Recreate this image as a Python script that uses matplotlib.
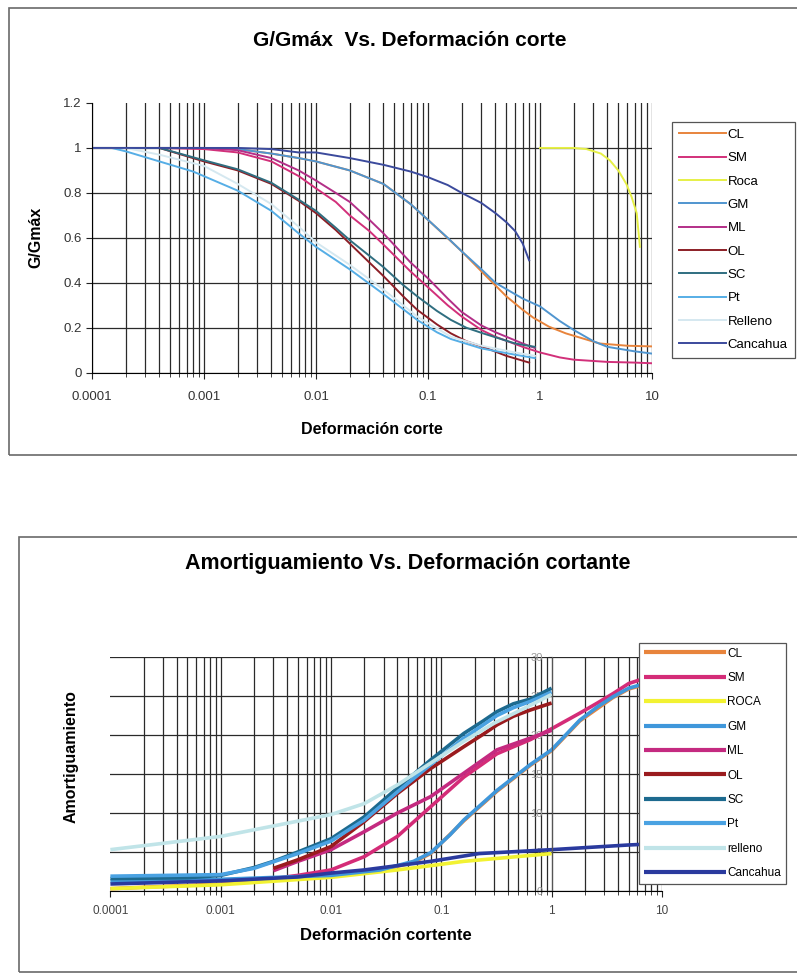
import matplotlib
matplotlib.use("Agg")
import matplotlib.pyplot as plt
from matplotlib.patches import Rectangle
from matplotlib.ticker import LogLocator, NullFormatter

plt.rcParams['font.family'] = ['Liberation Sans', 'DejaVu Sans']

# ---------------- datos: G/Gmax vs deformacion ----------------
g_names = ['CL', 'SM', 'Roca', 'GM', 'ML', 'OL', 'SC', 'Pt', 'Relleno', 'Cancahua']
g_colors = ['#E8843C', '#D2307A', '#E6F046', '#5095CF', '#B32F88',
            '#8C1E26', '#2F6E80', '#56AEE6', '#D5E8F0', '#3B4A9C']

cl_x = [0.0001, 0.001, 0.002, 0.004, 0.007, 0.01, 0.02, 0.04, 0.07, 0.1, 0.2, 0.33, 0.5, 0.7, 0.87, 1.2, 1.7, 2.5, 3.4, 6, 10]
cl_y = [1, 1, 0.995, 0.975, 0.955, 0.94, 0.90, 0.84, 0.75, 0.68, 0.54, 0.43, 0.34, 0.28, 0.245, 0.205, 0.175, 0.15, 0.13, 0.12, 0.117]

sm_x = [0.0004, 0.001, 0.002, 0.004, 0.007, 0.01, 0.015, 0.02, 0.03, 0.04, 0.07, 0.1, 0.15, 0.2, 0.3, 0.4, 0.7, 1, 1.5, 2, 4, 7, 10]
sm_y = [1, 0.995, 0.98, 0.94, 0.875, 0.82, 0.76, 0.70, 0.63, 0.57, 0.45, 0.38, 0.30, 0.25, 0.19, 0.16, 0.115, 0.09, 0.068, 0.058, 0.048, 0.045, 0.042]

roca_x = [1, 2, 2.6, 3.5, 4.2, 5, 5.9, 6.6, 7.3, 7.8]
roca_y = [1.0, 1.0, 0.995, 0.975, 0.945, 0.90, 0.84, 0.78, 0.71, 0.56]

gm_x = [0.0001, 0.001, 0.002, 0.004, 0.007, 0.01, 0.02, 0.04, 0.07, 0.1, 0.15, 0.2, 0.3, 0.4, 0.55, 0.7, 1, 1.5, 2, 3, 4, 7, 10]
gm_y = [1, 1, 0.995, 0.975, 0.955, 0.94, 0.90, 0.84, 0.75, 0.68, 0.60, 0.54, 0.46, 0.40, 0.36, 0.33, 0.295, 0.23, 0.19, 0.14, 0.115, 0.095, 0.085]

ml_x = [0.0004, 0.001, 0.002, 0.004, 0.007, 0.01, 0.015, 0.02, 0.03, 0.04, 0.07, 0.1, 0.15, 0.2, 0.3, 0.4, 0.7, 0.9]
ml_y = [1, 1, 0.99, 0.955, 0.90, 0.855, 0.80, 0.76, 0.68, 0.62, 0.49, 0.42, 0.33, 0.27, 0.21, 0.18, 0.13, 0.11]

ol_x = [0.0004, 0.001, 0.002, 0.004, 0.007, 0.01, 0.015, 0.02, 0.03, 0.04, 0.06, 0.08, 0.12, 0.16, 0.22, 0.31, 0.5, 0.8]
ol_y = [1, 0.94, 0.90, 0.84, 0.765, 0.71, 0.635, 0.575, 0.49, 0.43, 0.34, 0.28, 0.215, 0.175, 0.14, 0.115, 0.075, 0.045]

sc_x = [0.0004, 0.001, 0.002, 0.004, 0.007, 0.01, 0.015, 0.02, 0.03, 0.04, 0.06, 0.08, 0.12, 0.16, 0.22, 0.31, 0.6, 0.9]
sc_y = [1, 0.945, 0.905, 0.845, 0.77, 0.72, 0.645, 0.59, 0.52, 0.47, 0.39, 0.34, 0.275, 0.235, 0.20, 0.175, 0.13, 0.115]

pt_x = [0.0001, 0.00015, 0.0002, 0.0004, 0.0008, 0.002, 0.004, 0.007, 0.01, 0.02, 0.04, 0.08, 0.12, 0.16, 0.3, 0.6, 0.9]
pt_y = [1, 1, 0.985, 0.94, 0.895, 0.81, 0.72, 0.62, 0.56, 0.46, 0.35, 0.235, 0.18, 0.15, 0.108, 0.08, 0.065]

rel_x = [0.0001, 0.0002, 0.0004, 0.001, 0.002, 0.004, 0.007, 0.01, 0.02, 0.04, 0.08, 0.16, 0.3, 0.6, 0.9]
rel_y = [1, 1, 0.97, 0.92, 0.84, 0.75, 0.65, 0.58, 0.48, 0.37, 0.25, 0.16, 0.12, 0.09, 0.075]

can_x = [0.0001, 0.001, 0.002, 0.004, 0.007, 0.01, 0.02, 0.04, 0.07, 0.1, 0.15, 0.2, 0.3, 0.4, 0.5, 0.6, 0.7, 0.8]
can_y = [1, 1, 1, 0.995, 0.98, 0.98, 0.955, 0.925, 0.895, 0.87, 0.835, 0.80, 0.755, 0.71, 0.67, 0.63, 0.575, 0.50]

g_series = [(cl_x, cl_y), (sm_x, sm_y), (roca_x, roca_y), (gm_x, gm_y), (ml_x, ml_y),
            (ol_x, ol_y), (sc_x, sc_y), (pt_x, pt_y), (rel_x, rel_y), (can_x, can_y)]

# ---------------- datos: amortiguamiento vs deformacion ----------------
d_names = ['CL', 'SM', 'ROCA', 'GM', 'ML', 'OL', 'SC', 'Pt', 'relleno', 'Cancahua']
d_colors = ['#E8843C', '#D42C78', '#F2F232', '#3F97DB', '#C42A80',
            '#9A1B1E', '#1D6A8F', '#4AA2E2', '#C0E4E8', '#2A3A9E']

dcl_x = [0.0001, 0.001, 0.01, 0.028, 0.056, 0.08, 0.16, 0.32, 0.64, 1, 1.8, 3.6, 5, 10]
dcl_y = [0.3, 0.9, 1.9, 2.6, 3.7, 4.8, 9.0, 12.8, 16.1, 18.0, 21.8, 24.8, 25.9, 27.1]

dsm_x = [0.003, 0.005, 0.01, 0.02, 0.04, 0.08, 0.16, 0.32, 0.64, 1, 1.8, 2.6, 3.6, 5, 10]
dsm_y = [1.6, 2.0, 2.7, 4.4, 7.0, 10.8, 14.6, 17.6, 19.4, 20.8, 22.8, 24.1, 25.3, 26.6, 28.0]

droca_x = [0.0001, 0.001, 0.01, 0.04, 0.16, 1]
droca_y = [0.3, 0.8, 1.75, 2.7, 3.8, 4.8]

dgm_x = [0.0001, 0.001, 0.01, 0.028, 0.056, 0.08, 0.12, 0.16, 0.32, 0.64, 1, 1.8, 2.6, 3.6, 5, 10]
dgm_y = [1.3, 1.5, 2.0, 2.7, 3.8, 4.9, 7.2, 9.1, 12.9, 16.2, 18.1, 21.9, 23.6, 24.9, 26.0, 27.2]

dml_x = [0.003, 0.005, 0.01, 0.02, 0.04, 0.08, 0.16, 0.32, 0.64, 1]
dml_y = [2.6, 3.8, 5.3, 7.6, 10.0, 12.1, 15.1, 18.1, 19.6, 20.6]

dol_x = [0.003, 0.005, 0.01, 0.02, 0.04, 0.08, 0.16, 0.24, 0.32, 0.45, 0.64, 1]
dol_y = [2.9, 4.0, 5.7, 8.9, 12.5, 15.7, 18.5, 20.1, 21.3, 22.4, 23.2, 24.1]

dsc_x = [0.0001, 0.0005, 0.001, 0.002, 0.003, 0.005, 0.01, 0.02, 0.04, 0.08, 0.16, 0.24, 0.32, 0.45, 0.64, 0.8, 1]
dsc_y = [1.6, 1.7, 2.0, 3.0, 3.8, 5.0, 6.7, 9.5, 13.2, 16.8, 20.2, 21.8, 23.0, 24.0, 24.6, 25.3, 26.0]

dpt_x = [0.0001, 0.001, 0.002, 0.005, 0.01, 0.02, 0.04, 0.08, 0.16, 0.24, 0.32, 0.45, 0.64, 1]
dpt_y = [1.9, 2.1, 2.9, 4.8, 6.4, 9.1, 12.7, 16.2, 19.6, 21.3, 22.5, 23.5, 24.3, 25.5]

drel_x = [0.0001, 0.001, 0.01, 0.02, 0.04, 0.08, 0.16, 0.3, 0.6, 1]
drel_y = [5.3, 7.0, 9.8, 11.2, 13.6, 16.4, 19.2, 21.5, 23.6, 25.2]

dcan_x = [0.0001, 0.001, 0.005, 0.01, 0.02, 0.08, 0.22, 1, 5, 10]
dcan_y = [0.9, 1.3, 1.8, 2.3, 2.7, 3.8, 4.8, 5.3, 5.9, 6.1]

d_series = [(dcl_x, dcl_y), (dsm_x, dsm_y), (droca_x, droca_y), (dgm_x, dgm_y), (dml_x, dml_y),
            (dol_x, dol_y), (dsc_x, dsc_y), (dpt_x, dpt_y), (drel_x, drel_y), (dcan_x, dcan_y)]

x_ticks = [0.0001, 0.001, 0.01, 0.1, 1, 10]
x_labels = ['0.0001', '0.001', '0.01', '0.1', '1', '10']
g_ticks = [0, 0.2, 0.4, 0.6, 0.8, 1.0, 1.2]
g_labels = ['0', '0.2', '0.4', '0.6', '0.8', '1', '1.2']
d_ticks = [0, 5, 10, 15, 20, 25, 30]
d_labels = ['0', '5', '10', '15', '20', '25', '30']


def log_grid(ax):
    ax.set_xscale('log')
    ax.set_xlim(0.0001, 10)
    ax.xaxis.set_minor_locator(LogLocator(base=10, subs=range(2, 10)))
    ax.xaxis.set_minor_formatter(NullFormatter())
    ax.set_xticks(x_ticks)
    ax.set_xticklabels(x_labels)
    ax.grid(True, which='both', axis='x', color='#2a2a2a', lw=0.9)
    ax.grid(True, which='major', axis='y', color='#2a2a2a', lw=0.9)
    ax.spines['top'].set_visible(False)
    ax.spines['right'].set_visible(False)
    ax.tick_params(which='major', length=4, color='#222')
    ax.tick_params(which='minor', length=3, color='#222')
    ax.set_axisbelow(True)


fig = plt.figure(figsize=(7.97, 9.74), dpi=100)

# cajas exteriores
fig.add_artist(Rectangle((9 / 797, 1 - 455 / 974), 1.0, (455 - 8) / 974, transform=fig.transFigure,
                         fill=False, edgecolor='#6a6a6a', lw=1.2))
fig.add_artist(Rectangle((19 / 797, 1 - 972 / 974), 1.0, (972 - 537) / 974, transform=fig.transFigure,
                         fill=False, edgecolor='#6a6a6a', lw=1.2))

# ---------------- grafico superior ----------------
ax1 = fig.add_axes([92 / 797, 1 - 372.7 / 974, 560 / 797, 269.7 / 974])
for (xs, ys), name, col in zip(g_series, g_names, g_colors):
    ax1.plot(xs, ys, color=col, lw=1.4, label=name)
log_grid(ax1)
ax1.set_ylim(0, 1.2)
ax1.set_yticks(g_ticks)
ax1.set_yticklabels(g_labels)
ax1.get_ygridlines()[-1].set_visible(False)
ax1.tick_params(labelsize=9.5, labelcolor='#333')
ax1.tick_params(axis='x', pad=9)
ax1.set_xlabel('Deformación corte', fontsize=11.5, fontweight='bold', labelpad=14)
ax1.set_ylabel('G/Gmáx', fontsize=11.5, fontweight='bold', labelpad=14)
fig.text(410 / 797, 1 - 40 / 974, 'G/Gmáx  Vs. Deformación corte', ha='center', va='center',
         fontsize=15, fontweight='bold')
leg1 = ax1.legend(loc='upper left', bbox_to_anchor=(665 / 797, 1 - 115 / 974),
                  bbox_transform=fig.transFigure, fontsize=9.5, handlelength=3.6,
                  handletextpad=0.1, labelspacing=0.84, borderpad=0.55, fancybox=False,
                  framealpha=1, edgecolor='#555')
leg1.get_frame().set_linewidth(0.9)

# ---------------- grafico inferior ----------------
ax2 = fig.add_axes([110.4 / 797, 1 - 891 / 974, 551.5 / 797, 234 / 974])
for (xs, ys), name, col in zip(d_series, d_names, d_colors):
    ax2.plot(xs, ys, color=col, lw=2.6, label=name, solid_capstyle='butt')
log_grid(ax2)
ax2.set_ylim(0, 30)
ax2.set_yticks(d_ticks)
ax2.set_yticklabels(d_labels)
ax2.get_ygridlines()[-1].set_visible(False)
ax2.get_xgridlines()[0].set_visible(False)
ax2.spines['left'].set_position(('data', 1))
ax2.spines['left'].set_color('#555')
ax2.tick_params(axis='y', labelsize=8, labelcolor='#9a9a9a', length=3)
ax2.tick_params(axis='x', labelsize=8.5, labelcolor='#444', pad=6)
ax2.set_xlabel('Deformación cortente', fontsize=12, fontweight='bold', labelpad=8)
fig.text(71 / 797, 1 - 757 / 974, 'Amortiguamiento', rotation=90, ha='center', va='center',
         fontsize=11.5, fontweight='bold')
fig.text(408 / 797, 1 - 563 / 974, 'Amortiguamiento Vs. Deformación cortante', ha='center',
         va='center', fontsize=15.5, fontweight='bold')
leg2 = ax2.legend(loc='upper left', bbox_to_anchor=(633 / 797, 1 - 637 / 974),
                  bbox_transform=fig.transFigure, fontsize=8.5, handlelength=7.0,
                  handletextpad=0.1, labelspacing=1.05, borderpad=0.4, fancybox=False,
                  framealpha=1, edgecolor='#555')
leg2.get_frame().set_linewidth(0.9)
for ln in leg2.get_lines():
    ln.set_linewidth(3)

fig.savefig('out.png', dpi=100)
